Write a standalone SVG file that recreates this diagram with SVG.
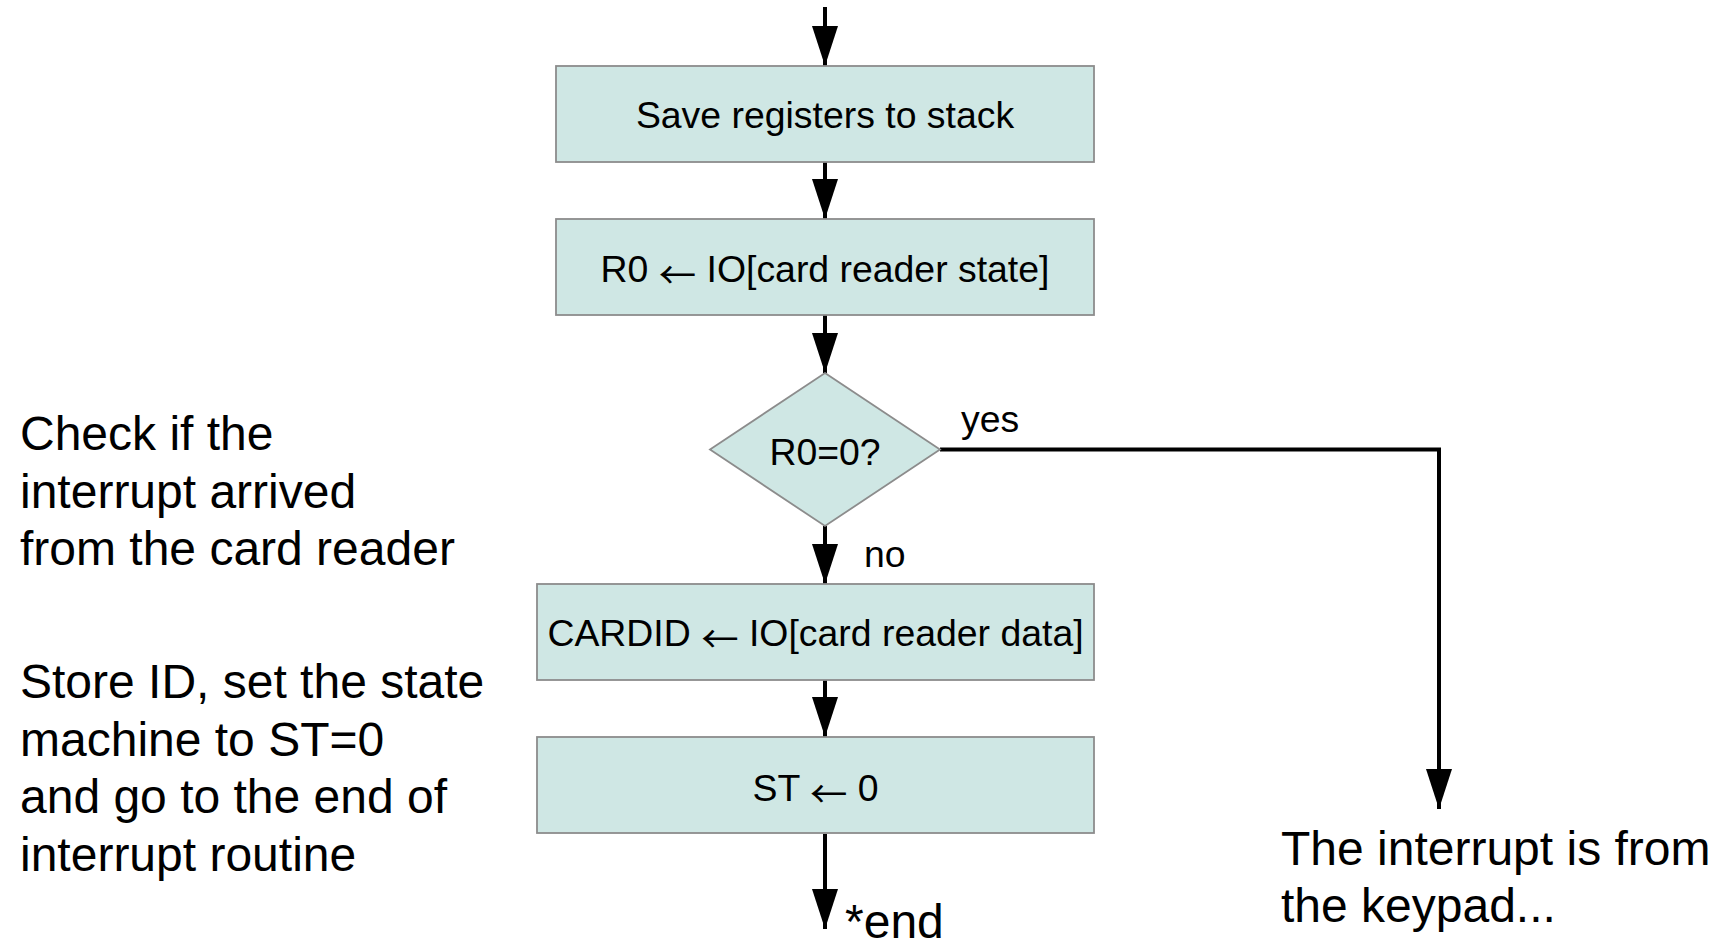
<svg xmlns="http://www.w3.org/2000/svg" width="1720" height="950" viewBox="0 0 1720 950">
<style>
.box{fill:#cfe7e4;stroke:#8c8c8c;stroke-width:1.8}
.t{font-family:"Liberation Sans",Arial,sans-serif;font-size:37.4px;fill:#000}
.c{text-anchor:middle}
.ar{font-family:"Noto Sans CJK SC","DejaVu Sans",sans-serif}
.big{font-family:"Liberation Sans",Arial,sans-serif;font-size:48px;fill:#000}
.ln{fill:none;stroke:#000;stroke-width:4}
</style>
<defs>
<marker id="ah" viewBox="0 0 40 26" refX="40" refY="13" markerWidth="40" markerHeight="26" markerUnits="userSpaceOnUse" orient="auto">
<path d="M0,0 L40,13 L0,26 Z" fill="#000"/>
</marker>
</defs>
<rect width="1720" height="950" fill="#fff"/>
<g id="connectors">
<line class="ln" x1="825" y1="7" x2="825" y2="66" marker-end="url(#ah)"/>
<line class="ln" x1="825" y1="162" x2="825" y2="219" marker-end="url(#ah)"/>
<line class="ln" x1="825" y1="315" x2="825" y2="373" marker-end="url(#ah)"/>
<line class="ln" x1="825" y1="526" x2="825" y2="584" marker-end="url(#ah)"/>
<polyline class="ln" points="940,449.5 1439,449.5 1439,809" marker-end="url(#ah)"/>
<line class="ln" x1="825" y1="680" x2="825" y2="737" marker-end="url(#ah)"/>
<line class="ln" x1="825" y1="834" x2="825" y2="929" marker-end="url(#ah)"/>
<text class="t" x="961" y="432">yes</text>
<text class="t" x="864" y="567">no</text>
<text class="big" x="845" y="938">*end</text>
</g>
<g id="save">
<rect class="box" x="556" y="66" width="538" height="96"/>
<text class="t c" x="825" y="128">Save registers to stack</text>
</g>
<g id="readstate">
<rect class="box" x="556" y="219" width="538" height="96"/>
<text class="t c" x="825" y="282">R0 <tspan class="ar" dy="7">←</tspan><tspan dy="-7"> IO[card reader state]</tspan></text>
</g>
<g id="decision">
<polygon class="box" points="825,373 940,449.5 825,526 710,449.5"/>
<text class="t c" x="825" y="465">R0=0?</text>
</g>
<g id="readdata">
<rect class="box" x="537" y="584" width="557" height="96"/>
<text class="t c" x="815.5" y="646">CARDID <tspan class="ar" dy="7">←</tspan><tspan dy="-7"> IO[card reader data]</tspan></text>
</g>
<g id="setst">
<rect class="box" x="537" y="737" width="557" height="96"/>
<text class="t c" x="815.5" y="801">ST <tspan class="ar" dy="7">←</tspan><tspan dy="-7"> 0</tspan></text>
</g>
<g id="note-check">
<text class="big" x="20" y="450">Check if the</text>
<text class="big" x="20" y="507.5">interrupt arrived</text>
<text class="big" x="20" y="565">from the card reader</text>
</g>
<g id="note-store">
<text class="big" x="20" y="697.5">Store ID, set the state</text>
<text class="big" x="20" y="755.5">machine to ST=0</text>
<text class="big" x="20" y="813">and go to the end of</text>
<text class="big" x="20" y="871">interrupt routine</text>
</g>
<g id="note-keypad">
<text class="big" x="1281" y="865">The interrupt is from</text>
<text class="big" x="1281" y="922">the keypad...</text>
</g>
</svg>
